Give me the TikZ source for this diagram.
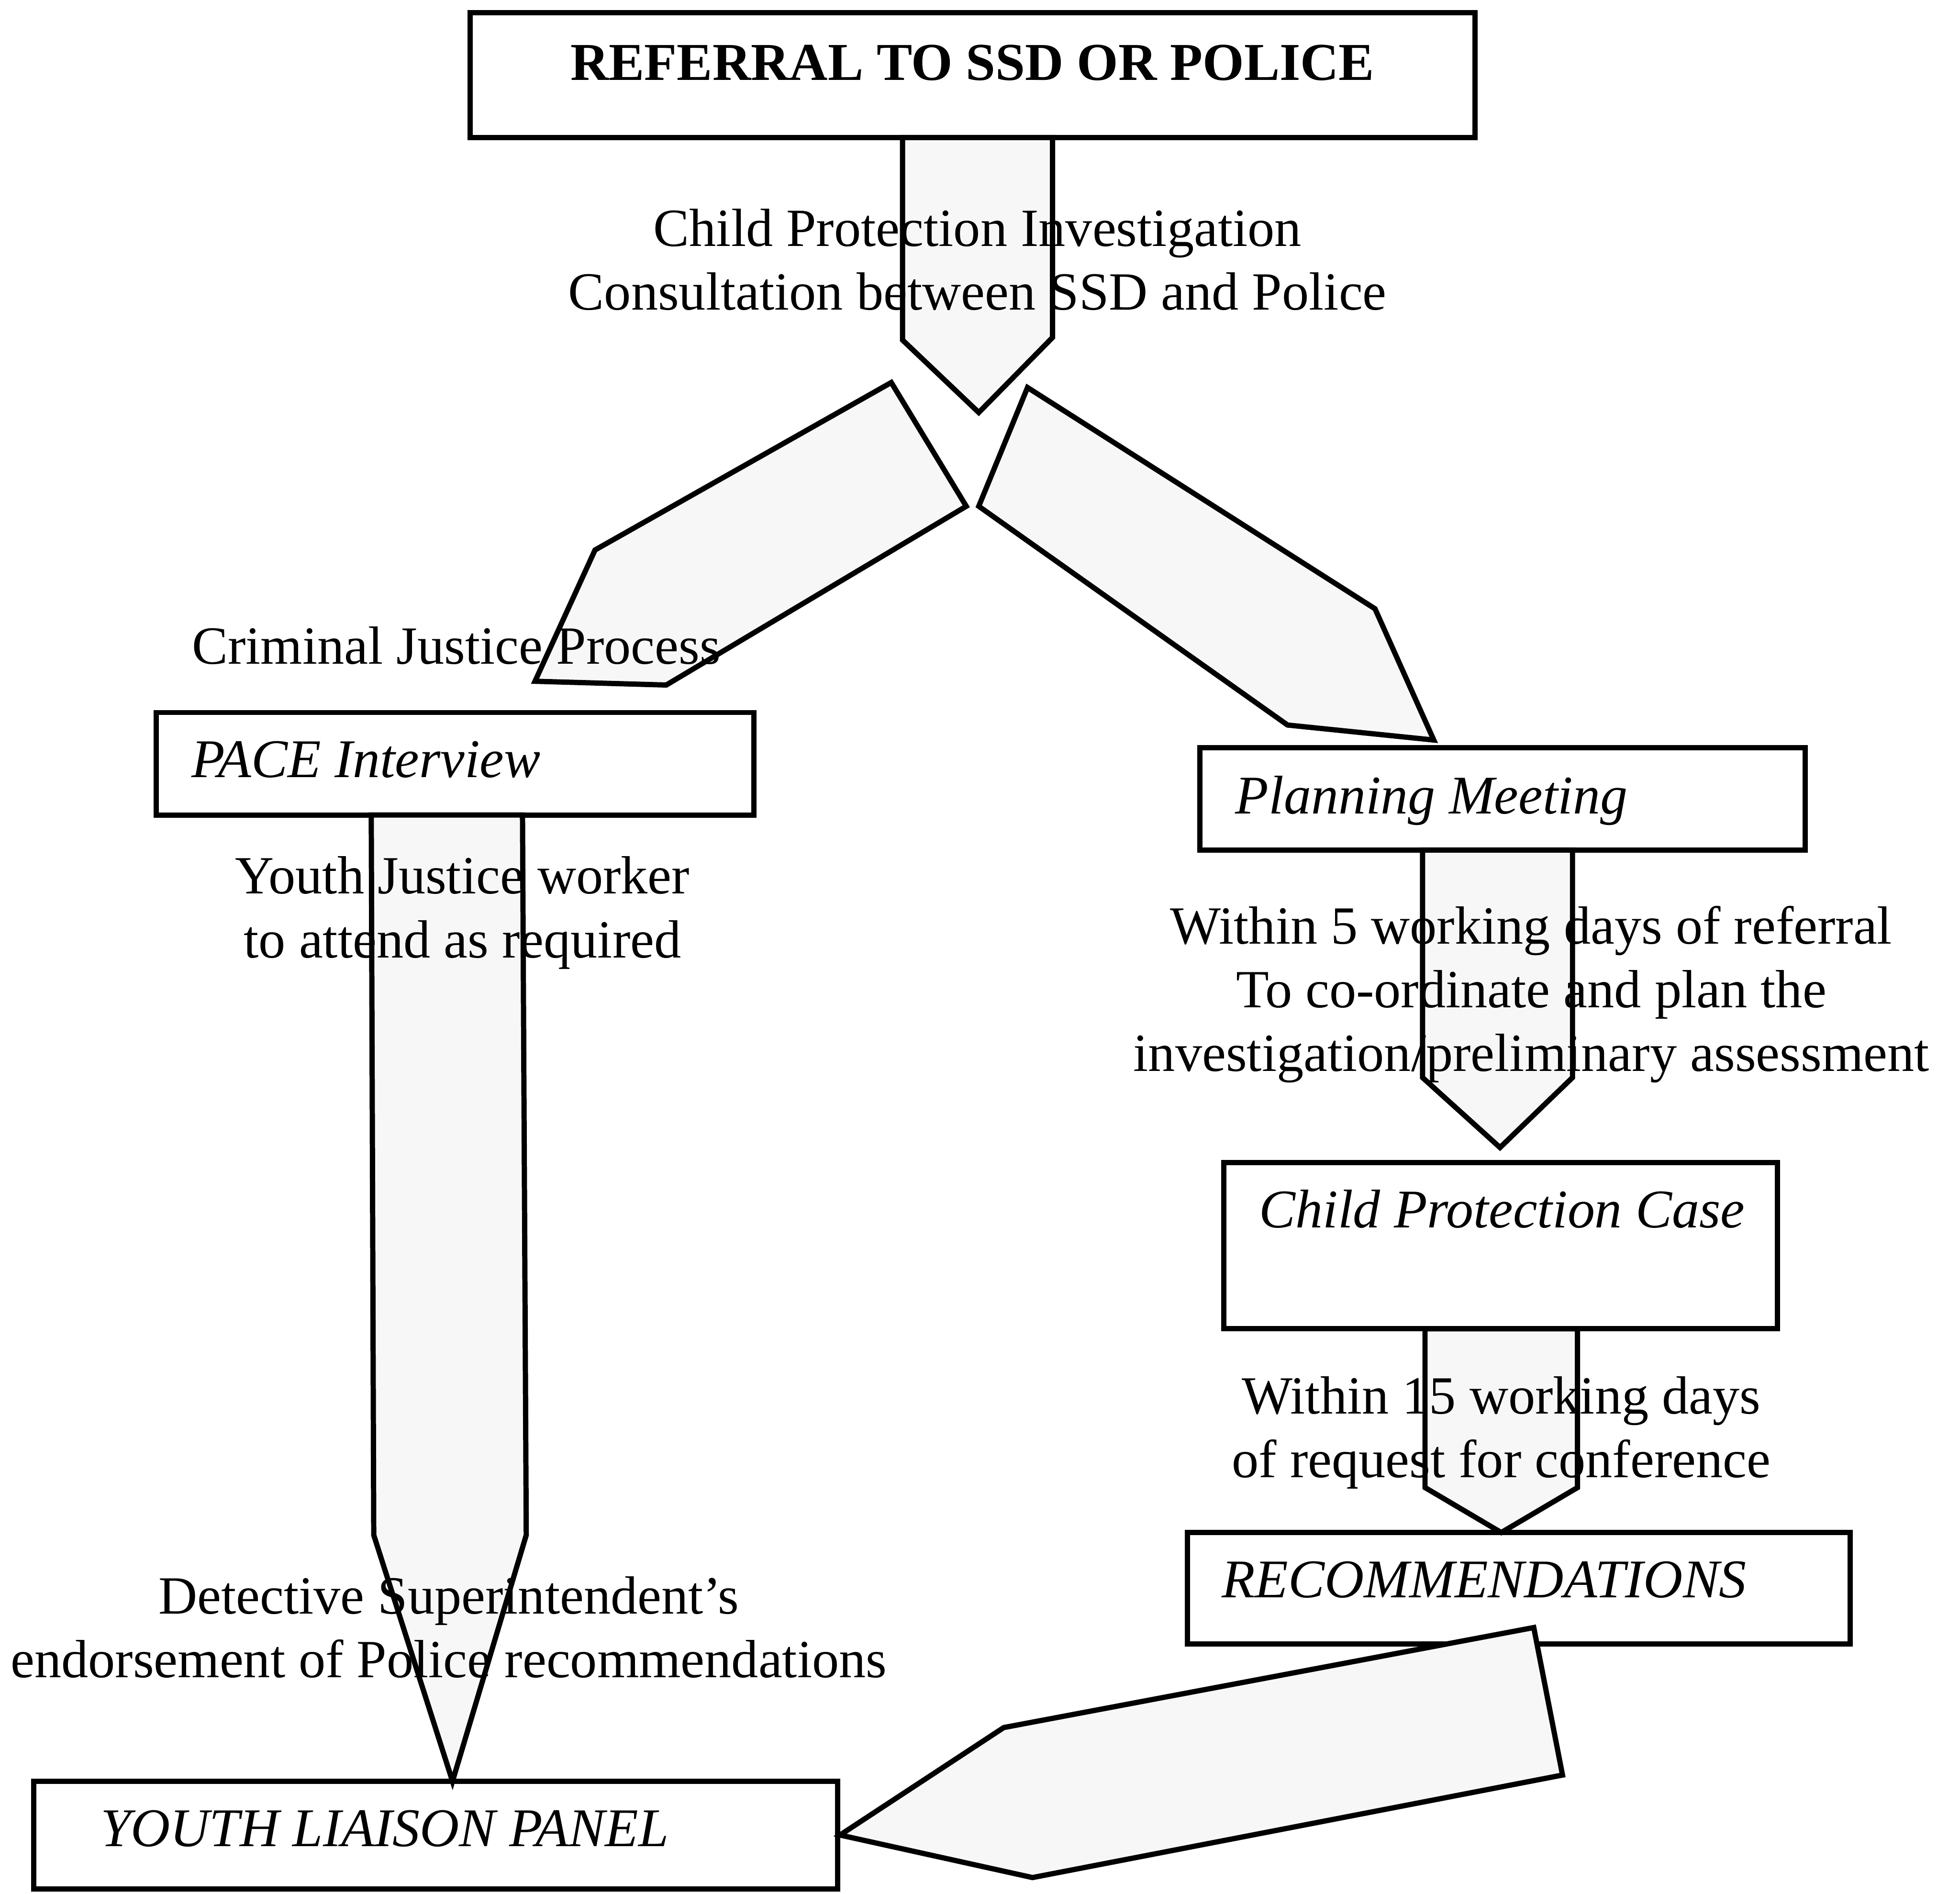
\documentclass[tikz,border=0pt]{standalone}
\usepackage{fontspec}
\setmainfont{Liberation Serif}
\usetikzlibrary{fit}
\begin{document}
\begin{tikzpicture}[x=0.5pt,y=-0.5pt,
  box/.style={draw, line width=2.1pt, rectangle, inner sep=0pt},
  blockarrow/.style={draw, line width=2.1pt, fill=black!3, line join=miter},
  lbl/.style={font=\fontsize{21.5}{25.5}\selectfont, inner sep=0pt, align=center, anchor=base},
  boxlbl/.style={font=\fontsize{21.8}{25.5}\selectfont\itshape, inner sep=0pt, anchor=base west},
]
\useasboundingbox (0,0) rectangle (1568,1515);

% boxes
\node[box, fit={(376,10) (1180,110)}] (ref) {};
\node[box, fit={(125,570) (603,652)}] (pace) {};
\node[box, fit={(960,598) (1444,680)}] (plan) {};
\node[box, fit={(979,930) (1422,1063)}] (cpc) {};
\node[box, fit={(950,1226) (1480,1315)}] (rec) {};
\node[box, fit={(27,1425) (670,1511)}] (ylp) {};

% block arrows
\draw[blockarrow] (722,110) -- (722,272) -- (783,330) -- (842,270) -- (842,110) -- cycle;
\draw[blockarrow] (713,306) -- (773,405) -- (533,548) -- (428,545) -- (476,440) -- cycle;
\draw[blockarrow] (822,310) -- (1100,487) -- (1147,592) -- (1030,580) -- (783,405) -- cycle;
\draw[blockarrow] (297,652) -- (299,1228) -- (362,1425) -- (421,1228) -- (418,652) -- cycle;
\draw[blockarrow] (1138,680) -- (1138,862) -- (1200,918) -- (1258,862) -- (1258,680) -- cycle;
\draw[blockarrow] (1140,1063) -- (1140,1190) -- (1201,1226) -- (1262,1190) -- (1262,1063) -- cycle;
\draw[blockarrow] (1227,1302) -- (1250,1420) -- (826,1502) -- (672,1468) -- (803,1382) -- cycle;

% box captions
\node[font=\fontsize{21.3}{25.5}\selectfont\bfseries, inner sep=0pt, anchor=base] (refT) at (778,64) {REFERRAL TO SSD OR POLICE};
\node[boxlbl] (paceT) at (153,622) {PACE Interview};
\node[boxlbl] (planT) at (988,651) {Planning Meeting};
\node[boxlbl] (cpcT) at (1007,982) {Child Protection Case};
\node[boxlbl] (recT) at (977,1278) {RECOMMENDATIONS};
\node[boxlbl] (ylpT) at (80,1477) {YOUTH LIAISON PANEL};

% arrow labels (anchored at the baseline of the last line)
\node[lbl] (l1) at (782,248) {Child Protection Investigation\\Consultation between SSD and Police};
\node[lbl] (l2) at (365,531) {Criminal Justice Process};
\node[lbl] (l3) at (370,766) {Youth Justice worker\\to attend as required};
\node[lbl] (l4) at (1225,857) {Within 5 working days of referral\\To co-ordinate and plan the\\investigation/preliminary assessment};
\node[lbl] (l5) at (1201,1182) {Within 15 working days\\of request for conference};
\node[lbl] (l6) at (359,1342) {Detective Superintendent's\\endorsement of Police recommendations};
\end{tikzpicture}
\end{document}
